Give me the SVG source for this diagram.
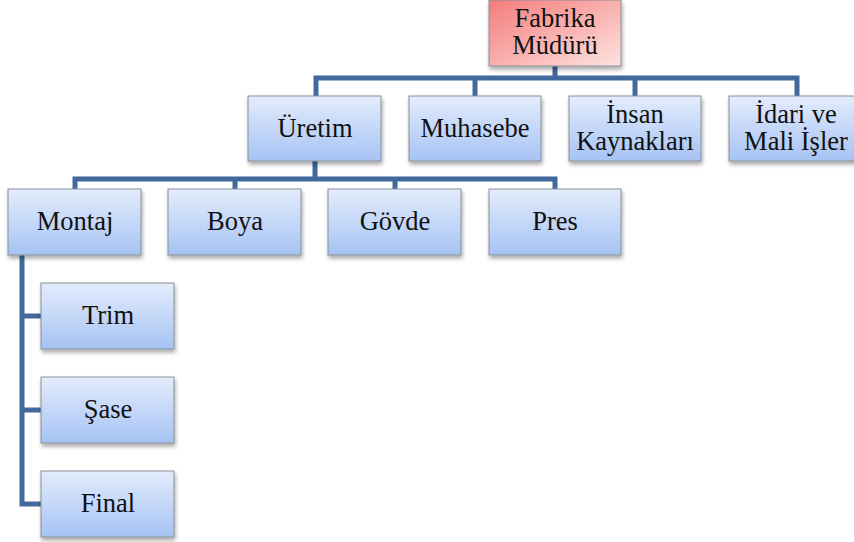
<svg xmlns="http://www.w3.org/2000/svg" width="854" height="542" viewBox="0 0 854 542">
  <defs>
    <linearGradient id="blueFill" x1="0" y1="0" x2="0" y2="1">
      <stop offset="0" stop-color="#e3ecfc"/>
      <stop offset="1" stop-color="#a6c3f4"/>
    </linearGradient>
    <linearGradient id="redFill" x1="0" y1="0" x2="1" y2="1">
      <stop offset="0" stop-color="#f47c7c"/>
      <stop offset="1" stop-color="#fde3df"/>
    </linearGradient>
    <filter id="shadow" x="-10%" y="-10%" width="125%" height="135%">
      <feGaussianBlur in="SourceAlpha" stdDeviation="2"/>
      <feOffset dx="1" dy="3" result="b"/>
      <feComponentTransfer><feFuncA type="linear" slope="0.35"/></feComponentTransfer>
      <feMerge><feMergeNode/><feMergeNode in="SourceGraphic"/></feMerge>
    </filter>
  </defs>
  <style>
    .box { fill: url(#blueFill); stroke: #8a8f98; stroke-width: 1; filter: url(#shadow); }
    .top { fill: url(#redFill); stroke: #8a8f98; stroke-width: 1; filter: url(#shadow); }
    .lbl { font-family: "Liberation Serif", "Times New Roman", serif; font-size: 26.5px; fill: #111; text-anchor: middle; }
    .wire { fill: none; stroke: #41699b; stroke-width: 5; stroke-linejoin: miter; }
  </style>

  <!-- connectors -->
  <g id="connectors" class="wire">
    <path d="M555,66 V78 M316,96 V78 H797 V96 M475,78 V96 M635,78 V96"/>
    <path d="M315,160 V179 M75,189 V179 H555 V189 M235,179 V189 M395,179 V189"/>
    <path d="M22,255 V504 H41 M22,316 H41 M22,410 H41"/>
  </g>

  <!-- level 0 -->
  <g id="fabrika-muduru">
    <rect class="top" x="489" y="0" width="132" height="66"/>
    <text class="lbl" x="555" y="27">Fabrika</text>
    <text class="lbl" x="555" y="54">Müdürü</text>
  </g>

  <!-- level 1 -->
  <g id="uretim">
    <rect class="box" x="248" y="96" width="133" height="65"/>
    <text class="lbl" x="315" y="137">Üretim</text>
  </g>
  <g id="muhasebe">
    <rect class="box" x="409" y="96" width="132" height="65"/>
    <text class="lbl" x="475" y="137">Muhasebe</text>
  </g>
  <g id="insan-kaynaklari">
    <rect class="box" x="569" y="96" width="132" height="65"/>
    <text class="lbl" x="635" y="123">İnsan</text>
    <text class="lbl" x="635" y="150">Kaynakları</text>
  </g>
  <g id="idari-mali-isler">
    <rect class="box" x="729" y="96" width="132" height="65"/>
    <text class="lbl" x="796" y="123">İdari ve</text>
    <text class="lbl" x="796" y="150">Mali İşler</text>
  </g>

  <!-- level 2 -->
  <g id="montaj">
    <rect class="box" x="8" y="189" width="133" height="66"/>
    <text class="lbl" x="75" y="230">Montaj</text>
  </g>
  <g id="boya">
    <rect class="box" x="168" y="189" width="133" height="66"/>
    <text class="lbl" x="235" y="230">Boya</text>
  </g>
  <g id="govde">
    <rect class="box" x="328" y="189" width="133" height="66"/>
    <text class="lbl" x="395" y="230">Gövde</text>
  </g>
  <g id="pres">
    <rect class="box" x="489" y="189" width="132" height="66"/>
    <text class="lbl" x="555" y="230">Pres</text>
  </g>

  <!-- level 3 (under Montaj) -->
  <g id="trim">
    <rect class="box" x="41" y="283" width="133" height="66"/>
    <text class="lbl" x="108" y="324">Trim</text>
  </g>
  <g id="sase">
    <rect class="box" x="41" y="377" width="133" height="66"/>
    <text class="lbl" x="108" y="418">Şase</text>
  </g>
  <g id="final">
    <rect class="box" x="41" y="471" width="133" height="66"/>
    <text class="lbl" x="108" y="512">Final</text>
  </g>
</svg>
